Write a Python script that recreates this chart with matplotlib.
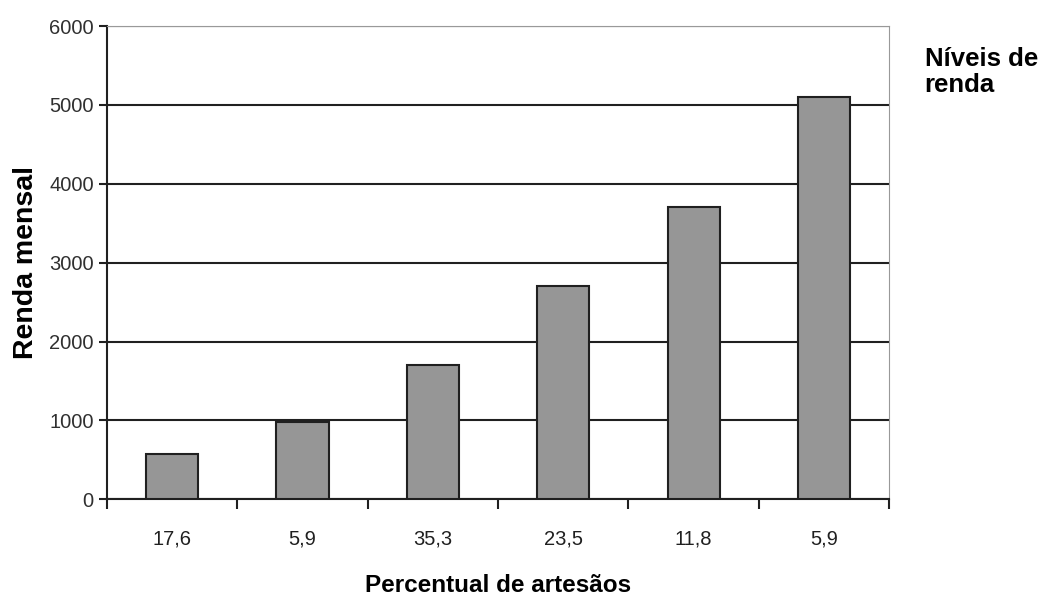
import matplotlib.pyplot as plt
import numpy as np

# data
categorias = ['17,6', '5,9', '35,3', '23,5', '11,8', '5,9']
renda = [580, 980, 1700, 2700, 3700, 5100]
y_ticks = [0, 1000, 2000, 3000, 4000, 5000, 6000]

plt.rcParams['font.family'] = ['Liberation Sans', 'DejaVu Sans']

fig = plt.figure(figsize=(10.46, 5.98), dpi=100)
ax = fig.add_axes([0.1023, 0.165, 0.7477, 0.7915])

x = np.arange(len(categorias))
ax.bar(x, renda, width=0.4, color='#969696', edgecolor='#202020', linewidth=1.5, zorder=3)

ax.set_xlim(-0.5, len(categorias) - 0.5)
ax.set_ylim(0, 6000)
ax.set_yticks(y_ticks)
ax.set_yticklabels([str(v) for v in y_ticks], fontsize=14.5)
ax.yaxis.grid(True, color='#202020', linewidth=1.5, zorder=0)

# x ticks between categories, labels centred under bars
ax.set_xticks(np.arange(-0.5, len(categorias), 1.0))
ax.set_xticklabels([])
ax.set_xticks(x, minor=True)
ax.set_xticklabels(categorias, minor=True, fontsize=14.5)
ax.tick_params(axis='x', which='minor', length=0, pad=22, labelcolor='#202020')
ax.tick_params(axis='x', which='major', length=7, width=1.5, direction='out', color='#202020')
ax.tick_params(axis='y', length=6, width=1.5, direction='out', color='#202020', labelcolor='#303030')

ax.spines['left'].set_color('#202020')
ax.spines['left'].set_linewidth(1.5)
ax.spines['bottom'].set_color('#202020')
ax.spines['bottom'].set_linewidth(1.5)
ax.spines['right'].set_color('#999999')
ax.spines['top'].set_color('#999999')

ax.set_ylabel('Renda mensal', fontsize=20.5, fontweight='bold', labelpad=7)
ax.set_xlabel('Percentual de artesãos', fontsize=17.5, fontweight='bold', labelpad=18)

fig.text(0.884, 0.922, 'Níveis de\nrenda', fontsize=18.5, fontweight='bold',
         va='top', ha='left', linespacing=1.15)

fig.savefig('out.png', dpi=100, facecolor='white')
